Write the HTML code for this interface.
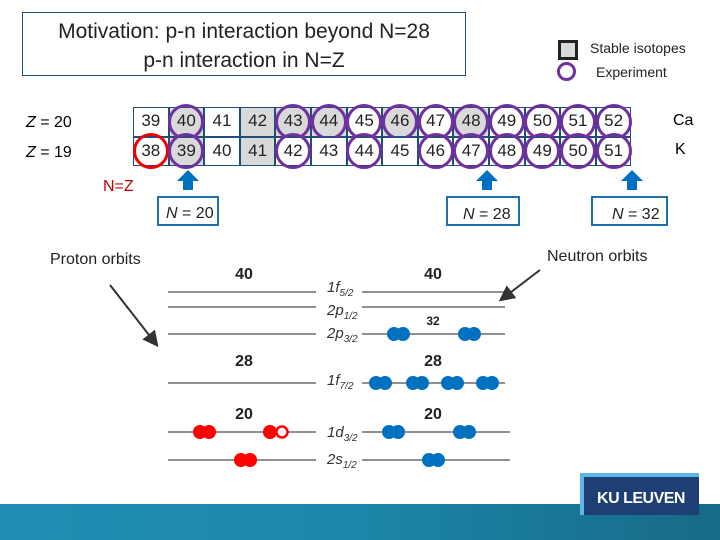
<!DOCTYPE html><html><head><style>
body{margin:0;width:720px;height:540px;position:relative;background:#fff;font-family:"Liberation Sans",sans-serif;overflow:hidden}
.a{position:absolute}
</style></head><body>
<div class="a" style="left:22px;top:12px;width:444px;height:64px;border:1px solid #1f4e79;box-sizing:border-box;text-align:center;font-size:21px;line-height:29px;color:#222;padding-top:4px">Motivation: p-n interaction beyond N=28<br>p-n interaction in N=Z</div>
<div class="a" style="left:558px;top:40px;width:14px;height:14px;border:3px solid #222;background:#d9d9d9"></div>
<div class="a" style="left:557px;top:62px;width:13px;height:13px;border:3px solid #7030a0;border-radius:50%"></div>
<div class="a" style="left:590px;top:40px;font-size:14px;color:#222">Stable isotopes</div>
<div class="a" style="left:596px;top:64px;font-size:14px;color:#222">Experiment</div>
<div class="a" style="left:26px;top:114px;font-size:16px"><i>Z</i> = 20</div>
<div class="a" style="left:26px;top:144px;font-size:16px"><i>Z</i> = 19</div>
<div class="a" style="left:673px;top:112px;font-size:16px">Ca</div>
<div class="a" style="left:675px;top:141px;font-size:16px">K</div>
<div class="a" style="left:103px;top:178px;font-size:16px;color:#c00000">N=Z</div>
<div class="a" style="left:50px;top:251px;font-size:16px;color:#222">Proton orbits</div>
<div class="a" style="left:547px;top:248px;font-size:16px;color:#222">Neutron orbits</div>
<svg class="a" style="left:0;top:0" width="720" height="540">
<defs><marker id="m" markerWidth="8" markerHeight="8" refX="6" refY="4" orient="auto"><path d="M0,0L8,4L0,8z" fill="#333"/></marker></defs>
<g font-family="Liberation Sans" font-size="17" text-anchor="middle" fill="#222">
<script></script>
</g>
<g id="t"></g>
<g fill="#0070c0"><path d="M183,190h10v-9h6l-11,-11l-11,11h6z"/><path d="M482,190h10v-9h6l-11,-11l-11,11h6z"/><path d="M627,190h10v-9h6l-11,-11l-11,11h6z"/></g>
<g fill="none" stroke="#1f6fa8" stroke-width="2"><rect x="158" y="197" width="60" height="28"/><rect x="447" y="197" width="72" height="28"/><rect x="592" y="197" width="75" height="28"/></g>
<g font-size="16" fill="#222" font-family="Liberation Sans"><text x="166" y="218"><tspan font-style="italic">N</tspan> = 20</text><text x="463" y="219"><tspan font-style="italic">N</tspan> = 28</text><text x="612" y="219"><tspan font-style="italic">N</tspan> = 32</text></g>
<line x1="110" y1="285" x2="156" y2="344" stroke="#333" stroke-width="2" marker-end="url(#m)"/>
<line x1="540" y1="270" x2="502" y2="299" stroke="#333" stroke-width="2" marker-end="url(#m)"/>
<g stroke="#222" stroke-width="1">
<line x1="168" y1="292" x2="316" y2="292"/><line x1="362" y1="292" x2="505" y2="292"/>
<line x1="168" y1="307" x2="316" y2="307"/><line x1="362" y1="307" x2="505" y2="307"/>
<line x1="168" y1="334" x2="316" y2="334"/><line x1="362" y1="334" x2="505" y2="334"/>
<line x1="168" y1="383" x2="316" y2="383"/><line x1="362" y1="383" x2="505" y2="383"/>
<line x1="168" y1="432" x2="316" y2="432"/><line x1="362" y1="432" x2="510" y2="432"/>
<line x1="168" y1="460" x2="316" y2="460"/><line x1="362" y1="460" x2="510" y2="460"/>
</g>
<g font-size="16" font-weight="bold" fill="#222" text-anchor="middle" font-family="Liberation Sans">
<text x="244" y="279">40</text><text x="433" y="279">40</text><text x="433" y="325" font-size="12">32</text>
<text x="244" y="366">28</text><text x="433" y="366">28</text><text x="244" y="419">20</text><text x="433" y="419">20</text></g>
<g font-size="15" fill="#333" font-style="italic" font-family="Liberation Sans">
<text x="327" y="292">1f<tspan font-size="10" dy="4">5/2</tspan></text>
<text x="327" y="315">2p<tspan font-size="10" dy="4">1/2</tspan></text>
<text x="327" y="338">2p<tspan font-size="10" dy="4">3/2</tspan></text>
<text x="327" y="385">1f<tspan font-size="10" dy="4">7/2</tspan></text>
<text x="327" y="437">1d<tspan font-size="10" dy="4">3/2</tspan></text>
<text x="327" y="464">2s<tspan font-size="10" dy="4">1/2</tspan></text></g>
<g fill="#0070c0">
<circle cx="394" cy="334" r="7"/><circle cx="403" cy="334" r="7"/><circle cx="465" cy="334" r="7"/><circle cx="474" cy="334" r="7"/>
<circle cx="376" cy="383" r="7"/><circle cx="385" cy="383" r="7"/><circle cx="413" cy="383" r="7"/><circle cx="422" cy="383" r="7"/>
<circle cx="448" cy="383" r="7"/><circle cx="457" cy="383" r="7"/><circle cx="483" cy="383" r="7"/><circle cx="492" cy="383" r="7"/>
<circle cx="389" cy="432" r="7"/><circle cx="398" cy="432" r="7"/><circle cx="460" cy="432" r="7"/><circle cx="469" cy="432" r="7"/>
<circle cx="429" cy="460" r="7"/><circle cx="438" cy="460" r="7"/></g>
<g fill="#f00">
<circle cx="200" cy="432" r="7"/><circle cx="209" cy="432" r="7"/><circle cx="270" cy="432" r="7"/>
<circle cx="241" cy="460" r="7"/><circle cx="250" cy="460" r="7"/></g>
<circle cx="282" cy="432" r="5.5" fill="#fff" stroke="#f00" stroke-width="2.5"/>
<defs><linearGradient id="g" x1="0" x2="1"><stop offset="0" stop-color="#1f8fb5"/><stop offset="0.5" stop-color="#1c86a8"/><stop offset="1" stop-color="#176a87"/></linearGradient></defs>
<rect x="0" y="504" width="720" height="36" fill="url(#g)"/>
<rect x="580" y="473" width="119" height="42" fill="#5fb4e8"/>
<rect x="584" y="477" width="115" height="38" fill="#1d3f73"/>
<text x="641" y="503" text-anchor="middle" fill="#fff" font-weight="bold" font-size="16" font-family="Liberation Sans" letter-spacing="-0.5">KU LEUVEN</text>
</svg>
<div id="tbl" class="a" style="left:133px;top:107px"></div>
<script>
var t=document.getElementById('tbl'),w=35.6,h=29.5,s='';
var g1=[1,3,4,5,7,9],g2=[1,3],c2=[1,4,6,8,9,10,11,12,13];
for(var r=0;r<2;r++)for(var i=0;i<14;i++){
var gray=(r==0?g1:g2).indexOf(i)>=0;
var circ=r==0?(i==1||i>=4):(c2.indexOf(i)>=0);
s+='<div style="position:absolute;left:'+(i*w)+'px;top:'+(r*h)+'px;width:'+w+'px;height:'+h+'px;box-sizing:border-box;border:1.5px solid #1f4e79;background:'+(gray?'#d9d9d9':'#fff')+';font-size:17px;line-height:'+(h-3)+'px;text-align:center;color:#222">'+(r==0?39+i:38+i)+'</div>';
if(circ||(r==1&&i==0))s+='<div style="position:absolute;left:'+(i*w+w/2-18)+'px;top:'+(r*h+h/2-18)+'px;width:30px;height:30px;border:3px solid '+(r==1&&i==0?'#e00':'#7030a0')+';border-radius:50%"></div>';
}
t.innerHTML=s;
</script>
</body></html>
